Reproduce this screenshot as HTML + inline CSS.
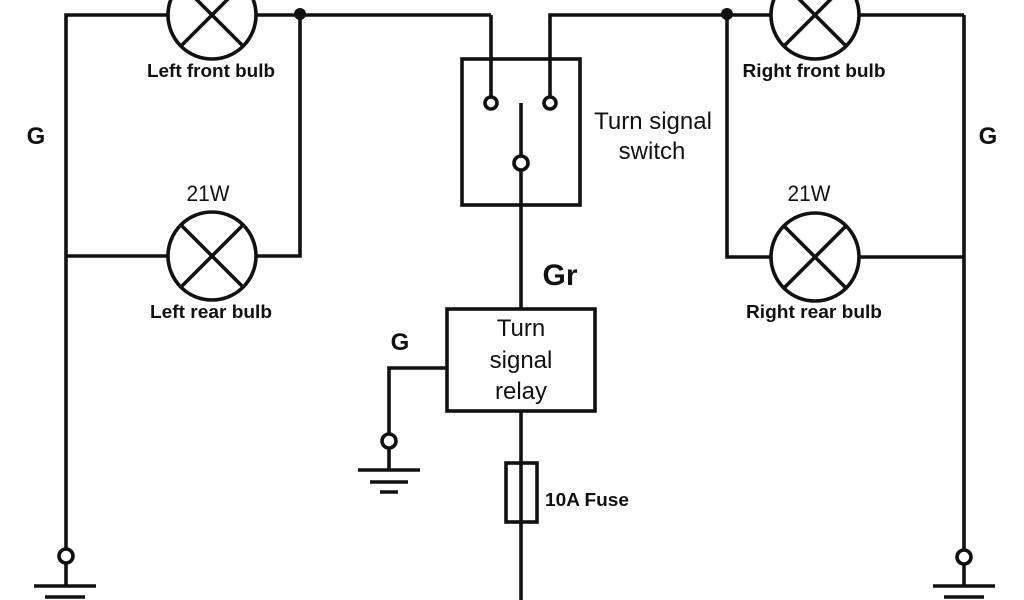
<!DOCTYPE html>
<html><head><meta charset="utf-8"><style>
html,body{margin:0;padding:0;background:#fff;width:1024px;height:600px;overflow:hidden}
svg{display:block}
text{font-family:"Liberation Sans",Arial,sans-serif;fill:#111}
.b{font-weight:bold}
</style></head><body>
<svg width="1024" height="600" viewBox="0 0 1024 600" xmlns="http://www.w3.org/2000/svg">
<g stroke="#111" stroke-width="3.6" fill="none">
<polyline points="168,15 66,15 66,550"/>
<line x1="257" y1="15" x2="491" y2="15"/>
<polyline points="491,15 491,97"/>
<polyline points="300,15 300,256 257,256"/>
<line x1="66" y1="256" x2="168" y2="256"/>
<circle cx="212" cy="15" r="44" fill="#fff"/>
<line x1="181" y1="-16" x2="243" y2="46"/><line x1="243" y1="-16" x2="181" y2="46"/>
<circle cx="212" cy="256" r="44" fill="#fff"/>
<line x1="181" y1="225" x2="243" y2="287"/><line x1="243" y1="225" x2="181" y2="287"/>
<circle cx="66" cy="556" r="7" fill="#fff"/>
<line x1="66" y1="563" x2="66" y2="586"/>
<line x1="34" y1="586" x2="96" y2="586"/>
<line x1="45" y1="597" x2="85" y2="597"/>
<rect x="462" y="59" width="118" height="146"/>
<circle cx="491" cy="103" r="6" fill="#fff"/>
<polyline points="550,97 550,15 771,15"/>
<circle cx="550" cy="103" r="6" fill="#fff"/>
<line x1="521" y1="103" x2="521" y2="156"/>
<circle cx="521" cy="163" r="7" fill="#fff"/>
<line x1="521" y1="170" x2="521" y2="309"/>
<rect x="447" y="309" width="148" height="102"/>
<polyline points="447,368 389,368 389,434"/>
<circle cx="389" cy="441" r="7" fill="#fff"/>
<line x1="389" y1="448" x2="389" y2="470"/>
<line x1="358" y1="470" x2="420" y2="470"/>
<line x1="370" y1="482" x2="408" y2="482"/>
<line x1="380" y1="492" x2="398" y2="492"/>
<line x1="521" y1="411" x2="521" y2="600"/>
<rect x="506" y="463" width="31" height="59"/>
<line x1="859" y1="15" x2="964" y2="15"/>
<line x1="964" y1="15" x2="964" y2="550"/>
<polyline points="727,15 727,257 771,257"/>
<line x1="859" y1="257" x2="964" y2="257"/>
<circle cx="815" cy="15" r="44" fill="#fff"/>
<line x1="784" y1="-16" x2="846" y2="46"/><line x1="846" y1="-16" x2="784" y2="46"/>
<circle cx="815" cy="257" r="44" fill="#fff"/>
<line x1="784" y1="226" x2="846" y2="288"/><line x1="846" y1="226" x2="784" y2="288"/>
<circle cx="964" cy="557" r="7" fill="#fff"/>
<line x1="964" y1="564" x2="964" y2="586"/>
<line x1="933" y1="586" x2="995" y2="586"/>
<line x1="944" y1="597" x2="984" y2="597"/>
</g>
<circle cx="300" cy="14" r="6" fill="#111"/>
<circle cx="727" cy="14" r="6" fill="#111"/>
<text x="211" y="77" font-size="18" class="b" text-anchor="middle" textLength="128" lengthAdjust="spacingAndGlyphs">Left front bulb</text>
<text x="208" y="201" font-size="22" text-anchor="middle" textLength="43" lengthAdjust="spacingAndGlyphs">21W</text>
<text x="211" y="318" font-size="18" class="b" text-anchor="middle" textLength="122" lengthAdjust="spacingAndGlyphs">Left rear bulb</text>
<text x="36" y="144" font-size="24" class="b" text-anchor="middle">G</text>
<text x="814" y="77" font-size="18" class="b" text-anchor="middle" textLength="143" lengthAdjust="spacingAndGlyphs">Right front bulb</text>
<text x="809" y="201" font-size="22" text-anchor="middle" textLength="43" lengthAdjust="spacingAndGlyphs">21W</text>
<text x="814" y="318" font-size="18" class="b" text-anchor="middle" textLength="136" lengthAdjust="spacingAndGlyphs">Right rear bulb</text>
<text x="988" y="144" font-size="24" class="b" text-anchor="middle">G</text>
<text x="653" y="129" font-size="24" text-anchor="middle">Turn signal</text>
<text x="652" y="159" font-size="24" text-anchor="middle">switch</text>
<text x="560" y="285" font-size="30" class="b" text-anchor="middle">Gr</text>
<text x="521" y="336" font-size="24" text-anchor="middle">Turn</text>
<text x="521" y="368" font-size="24" text-anchor="middle">signal</text>
<text x="521" y="399" font-size="24" text-anchor="middle">relay</text>
<text x="400" y="350" font-size="24" class="b" text-anchor="middle">G</text>
<text x="545" y="506" font-size="18" class="b" textLength="84" lengthAdjust="spacingAndGlyphs">10A Fuse</text>
</svg>
</body></html>
